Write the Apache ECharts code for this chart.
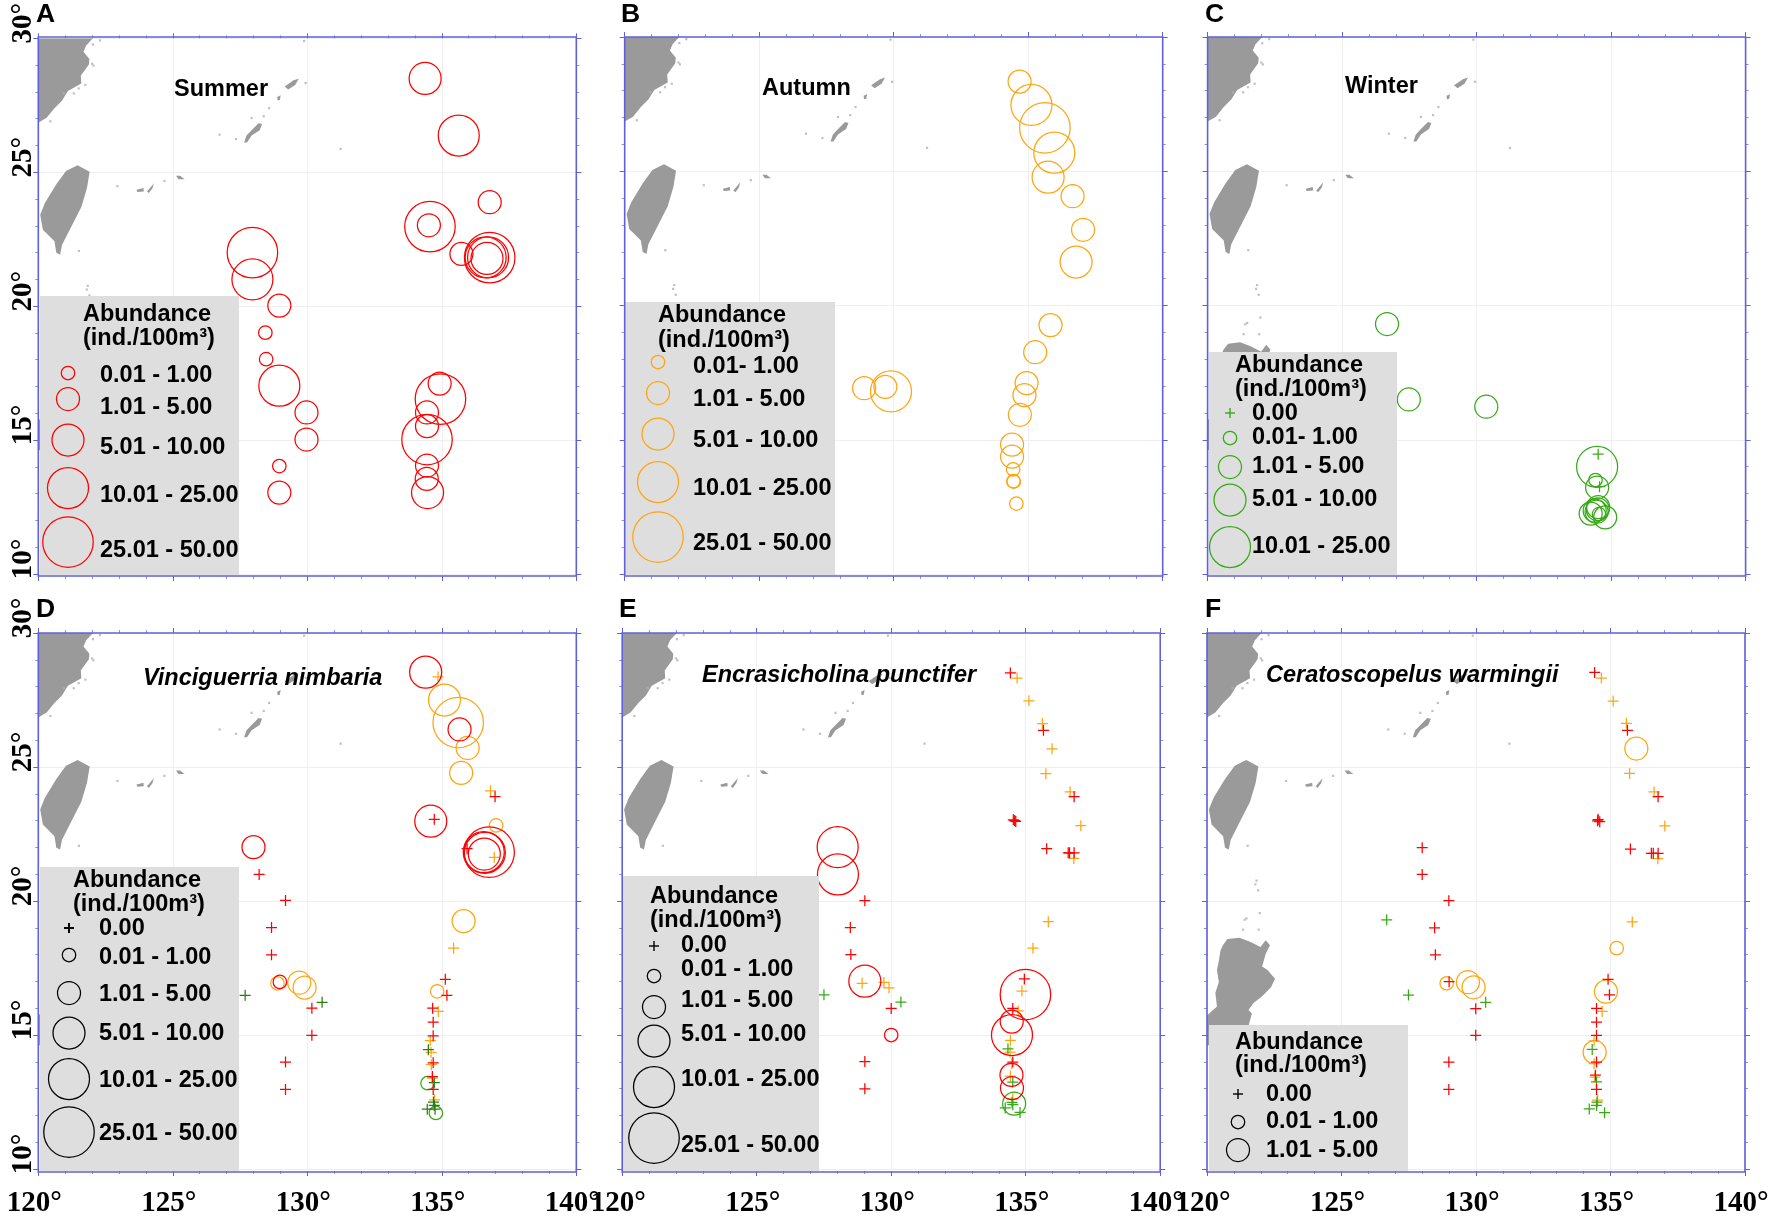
<!DOCTYPE html>
<html>
<head>
<meta charset="utf-8">
<title>Abundance maps</title>
<script src="https://cdn.jsdelivr.net/npm/echarts@6/dist/echarts.min.js"></script>
<style>
html, body { margin: 0; padding: 0; background: #fff; }
#chart { width: 1778px; height: 1218px; }
</style>
</head>
<body>
<div id="chart"></div>
<script>
// station lists: [lon, lat, abundance class] - class 0 means 0.00 (plus sign)
var summerA = [[134.38,28.5,3],[135.63,26.37,4],[136.78,23.88,2],[134.56,22.97,5],[134.52,23.02,2],[135.73,21.95,2],[136.78,21.81,5],[136.63,21.82,4],[136.72,21.82,4],[136.68,21.78,3],[127.96,22.0,5],[127.96,21.0,4],[128.96,20.02,2],[128.44,19.01,1],[128.47,18.02,1],[128.96,17.03,4],[129.97,16.03,2],[129.97,15.02,2],[128.96,14.03,1],[128.96,13.04,2],[134.92,17.11,2],[134.95,16.53,5],[134.45,16.03,2],[134.45,15.52,2],[134.45,15.02,5],[134.45,14.05,2],[134.44,13.55,2],[134.47,13.04,3]]
var autumnB = [[134.68,28.34,2],[135.12,27.47,4],[135.62,26.62,5],[135.97,25.69,4],[135.74,24.78,3],[136.65,24.07,2],[137.04,22.82,2],[136.78,21.62,3],[135.83,19.27,2],[135.26,18.26,2],[134.94,17.11,2],[134.86,16.66,2],[134.69,15.93,2],[134.40,14.82,2],[134.40,14.37,2],[134.44,13.90,1],[134.45,13.46,1],[134.46,13.44,1],[134.56,12.62,1],[128.90,16.92,2],[129.69,16.97,2],[129.90,16.80,4]]
var winterC = [[126.67,19.31,2],[127.48,16.50,2],[130.36,16.23,2],[134.52,14.46,0],[134.48,13.99,4],[134.42,13.50,1],[134.48,13.22,2],[134.57,13.25,0],[134.52,12.49,2],[134.50,12.41,2],[134.39,12.36,2],[134.24,12.25,2],[134.46,12.32,2],[134.78,12.11,2],[134.55,12.23,1]]

var vincRed = [[134.40,28.54,3],[135.66,26.40,2],[134.59,22.98,3],[128.0,22.01,2],[136.76,21.82,5],[136.56,21.82,4],[136.60,21.80,4],[136.58,21.75,3],[128.98,16.98,1],[134.72,23.05,0],[136.98,23.89,0],[135.94,21.95,0],[128.21,20.99,0],[129.19,20.02,0],[128.67,19.01,0],[128.67,17.99,0],[130.17,16.0,0],[130.17,14.99,0],[129.19,13.99,0],[129.19,12.97,0],[135.13,17.08,0],[135.19,16.48,0],[134.66,16.0,0],[134.68,15.48,0],[134.68,14.97,0],[134.68,13.96,0],[134.65,13.45,0],[134.68,12.97,0]]
var vincOrange = [[135.10,27.50,3],[135.61,26.66,5],[135.96,25.71,2],[135.72,24.78,2],[137.02,22.82,1],[135.81,19.25,2],[134.83,16.63,1],[128.89,16.93,1],[129.70,16.95,2],[129.90,16.77,2],[134.86,28.36,0],[136.81,24.11,0],[136.95,21.63,0],[135.44,18.24,0],[134.87,15.88,0],[134.57,14.79,0],[134.60,14.35,0],[134.61,13.89,0],[134.65,13.39,0],[134.73,12.58,0]]
var vincGreen = [[134.47,13.20,1],[134.78,12.09,1]]
var vincGreenZero = [[127.69,16.48,0],[130.55,16.22,0],[134.50,14.45,0],[134.72,13.22,0],[134.69,12.50,0],[134.72,12.37,0],[134.46,12.23,0],[134.75,12.23,0]]

var encrRed = [[128.01,22.01,4],[128.02,20.99,4],[129.02,17.01,3],[130.0,15.0,1],[134.99,16.51,5],[134.48,15.50,2],[134.49,15.0,4],[134.47,13.51,2],[134.49,13.02,2],[134.43,28.51,0],[135.66,26.37,0],[136.80,23.89,0],[134.59,23.0,0],[134.54,23.03,0],[134.63,22.97,0],[135.78,21.95,0],[136.58,21.80,0],[136.63,21.80,0],[136.80,21.80,0],[129.02,20.01,0],[128.48,19.01,0],[128.50,18.0,0],[130.0,15.99,0],[129.02,14.01,0],[129.02,12.99,0],[134.95,17.09,0],[134.52,15.99,0],[134.52,13.99,0]]
var encrOrange = [[134.68,28.32,0],[135.12,27.47,0],[135.62,26.62,0],[135.98,25.68,0],[135.75,24.75,0],[136.65,24.07,0],[137.05,22.81,0],[136.79,21.59,0],[135.84,19.23,0],[135.27,18.24,0],[134.86,16.64,0],[134.72,15.90,0],[134.43,14.80,0],[134.42,14.36,0],[134.48,13.93,0],[134.43,13.47,0],[134.52,12.62,0],[128.92,16.93,0],[129.73,16.96,0],[129.92,16.76,0]]
var encrGreen = [[127.50,16.50,0],[130.36,16.23,0],[134.34,14.48,0],[134.52,13.24,0],[134.49,12.49,0],[134.52,12.40,0],[134.24,12.28,0],[134.79,12.11,0],[134.57,12.44,2]]

var cerRed = [[134.41,28.53,0],[135.63,26.37,0],[136.77,23.89,0],[134.54,23.04,0],[134.60,22.96,0],[134.52,22.99,0],[135.74,21.94,0],[136.52,21.78,0],[136.59,21.78,0],[136.77,21.78,0],[128.0,21.99,0],[128.0,20.99,0],[128.99,20.01,0],[128.46,19.0,0],[128.49,17.99,0],[129.0,16.99,0],[129.99,15.98,0],[129.99,14.99,0],[128.99,13.99,0],[128.99,12.97,0],[134.91,17.08,0],[134.96,16.50,0],[134.48,15.99,0],[134.48,15.48,0],[134.48,14.99,0],[134.48,13.99,0],[134.44,13.50,0],[134.48,12.97,0]]
var cerOrange = [[135.96,25.69,2],[135.23,18.24,1],[128.91,16.93,1],[129.70,16.97,2],[129.91,16.78,2],[134.83,16.62,2],[134.41,14.36,2],[134.66,28.32,0],[135.10,27.46,0],[135.59,26.63,0],[135.71,24.76,0],[136.62,24.07,0],[137.02,22.80,0],[136.76,21.58,0],[135.81,19.22,0],[134.69,15.88,0],[134.39,14.78,0],[134.39,13.93,0],[134.42,13.43,0],[134.52,12.57,0]]
var cerGreen = [[126.68,19.30,0],[127.49,16.49,0],[130.36,16.22,0],[134.32,14.46,0],[134.48,13.25,0],[134.50,12.50,0],[134.48,12.37,0],[134.21,12.24,0],[134.78,12.10,0]]

// land outlines in lon/lat
var chinaCoast = [[120,30],[122.03,30],[121.78,29.73],[121.68,29.5],[121.9,29.23],[121.88,29.02],[121.58,28.6],[121.6,28.31],[121.10,28.03],[120.88,27.67],[120.60,27.39],[120.31,27.03],[120,26.85]]
var taiwan = [[121.46,25.26],[121.91,25.02],[121.81,24.41],[121.60,23.70],[121.24,22.99],[120.88,22.28],[120.81,21.92],[120.67,21.99],[120.60,22.42],[120.17,22.85],[120.07,23.41],[120.24,23.84],[120.67,24.55],[121.03,25.05]]
var okinawa = [[127.65,26.11],[127.74,26.37],[127.93,26.57],[128.19,26.83],[128.32,26.80],[128.23,26.57],[127.93,26.37],[127.76,26.11]]
var amami = [[129.16,28.20],[129.49,28.43],[129.68,28.49],[129.55,28.26],[129.29,28.09]]
var tokuno = [[128.88,27.81],[129.01,27.87],[128.98,27.70],[128.90,27.68]]
var miyako = [[123.65,24.35],[123.91,24.41],[123.92,24.28],[123.68,24.26]]
var ishigaki = [[124.04,24.28],[124.30,24.59],[124.24,24.39],[124.11,24.22]]
var yonaguni = [[125.12,24.87],[125.27,24.87],[125.44,24.74],[125.21,24.74]]
var luzon = [[120.59,18.35],[120.76,18.58],[121.21,18.63],[121.60,18.48],[121.99,18.28],[122.18,18.54],[122.34,18.35],[122.18,18.02],[122.05,17.56],[122.25,17.43],[122.53,17.10],[122.38,16.78],[122.05,16.45],[121.73,16.19],[121.54,15.93],[121.67,15.80],[121.54,15.34],[121.47,14.62],[120,14.62],[120,15.73],[120.37,16.06],[120.31,16.58],[120.44,16.97],[120.37,17.43],[120.44,17.76],[120.50,18.15]]
var landShapes = [chinaCoast, taiwan, okinawa, amami, tokuno, miyako, ishigaki, yonaguni, luzon]
var smallIslands = [[131.24,25.87],[126.74,26.40],[128.58,27.39],[129.94,28.33],[129.88,29.90],[122.94,24.48],[124.69,24.67],[121.51,22.06],[121.84,20.76],[121.80,20.62],[121.90,20.40],[121.47,19.35],[121.40,19.30],[121.96,19.55],[121.34,18.93],[121.92,18.93],[122.29,29.92],[122.03,29.77],[122.05,28.98],[122.0,29.05],[121.75,28.26],[121.5,28.13],[121.32,27.94],[120.95,27.94],[120.45,26.9],[127.93,27.02],[128.38,27.09],[127.35,26.24]]

var xTicks = ['120°', '125°', '130°', '135°', '140°']
var labelsFive = ['0.01 - 1.00', '1.01 - 5.00', '5.01 - 10.00', '10.01 - 25.00', '25.01 - 50.00']
var sizes = [11, 13.5, 23, 32, 41, 50.5] // px per abundance class

var RED = '#ff0000', ORANGE = '#ffa50f', GREEN = '#35aa14', DARKGREEN = '#2a7d12', BLUE = '#6060dc'
var PLUS = 'path://M0 5L10 5M5 0L5 10'

// gx/gy: plot origin, left/top: origin the legend and title offsets are measured from
var panels = [
  { letter: 'A', gx: 38.3, gy: 37, left: 39, top: 36, title: 'Summer', tx: 135, ty: 54, yLabels: true, xLabels: false,
    sets: [[summerA, RED]],
    legend: { color: RED, w: 199, top: 260, titleX: 44, titleY: [279, 303], symX: 29, symY: [337, 363, 404, 452, 506], txtX: 61, txtY: [340, 372, 412, 460, 515], cls: [1, 2, 3, 4, 5], labels: labelsFive } },
  { letter: 'B', gx: 624.7, gy: 37, left: 624, top: 36, title: 'Autumn', tx: 138, ty: 53, yLabels: false, xLabels: false,
    sets: [[autumnB, ORANGE]],
    legend: { color: ORANGE, w: 210, top: 266, titleX: 34, titleY: [280, 305], symX: 34, symY: [326, 357, 398, 446, 501], txtX: 69, txtY: [331, 364, 405, 453, 508], cls: [1, 2, 3, 4, 5],
      labels: ['0.01- 1.00', '1.01 - 5.00', '5.01 - 10.00', '10.01 - 25.00', '25.01 - 50.00'] } },
  { letter: 'C', gx: 1207.6, gy: 37, left: 1208, top: 36, title: 'Winter', tx: 137, ty: 51, yLabels: false, xLabels: false,
    sets: [[winterC, GREEN]],
    legend: { color: GREEN, w: 188, top: 316, titleX: 27, titleY: [330, 354], symX: 22, symY: [377, 402, 431, 464, 511], txtX: 44, txtY: [378, 402, 431, 464, 511], cls: [0, 1, 2, 3, 4],
      labels: ['0.00', '0.01- 1.00', '1.01 - 5.00', '5.01 - 10.00', '10.01 - 25.00'] } },
  { letter: 'D', gx: 38.3, gy: 633, left: 39, top: 631, title: 'Vinciguerria nimbaria', italic: true, tx: 104, ty: 48, yLabels: true, xLabels: true,
    sets: [[vincGreen, GREEN], [vincOrange, ORANGE], [vincRed, RED], [vincGreenZero, DARKGREEN]],
    legend: { color: '#000', w: 199, top: 236, titleX: 34, titleY: [250, 274], symX: 30, symY: [297, 324, 362, 402, 448, 501], txtX: 60, txtY: [298, 327, 364, 403, 450, 503], cls: [0, 1, 2, 3, 4, 5],
      labels: ['0.00'].concat(labelsFive) } },
  { letter: 'E', gx: 622.2, gy: 633, left: 622, top: 631, title: 'Encrasicholina punctifer', italic: true, tx: 80, ty: 45, yLabels: false, xLabels: true,
    sets: [[encrOrange, ORANGE], [encrGreen, GREEN], [encrRed, RED]],
    legend: { color: '#000', w: 196, top: 245, titleX: 28, titleY: [266, 290], symX: 32, symY: [315, 345, 376, 410, 456, 507], txtX: 59, txtY: [315, 339, 370, 404, 449, 515], cls: [0, 1, 2, 3, 4, 5],
      labels: ['0.00'].concat(labelsFive) } },
  { letter: 'F', gx: 1207, gy: 633, left: 1208, top: 631, title: 'Ceratoscopelus warmingii', italic: true, tx: 58, ty: 45, yLabels: false, xLabels: true,
    sets: [[cerOrange, ORANGE], [cerGreen, GREEN], [cerRed, RED]],
    legend: { color: '#000', w: 199, top: 394, titleX: 27, titleY: [412, 435], symX: 30, symY: [463, 491, 519], txtX: 58, txtY: [464, 491, 520], cls: [0, 1, 2],
      labels: ['0.00', '0.01 - 1.00', '1.01 - 5.00'] } }
]

var PW = 538, PH = 537, FRAME_DROP = 2
var SANS = '"Liberation Sans", Arial, sans-serif'
var SERIF = '"Liberation Serif", "Times New Roman", serif'

var grids = [], xAxes = [], yAxes = [], series = [], graphics = []

function lonAxis(i, pos, labels, split) {
  return {
    type: 'value', gridIndex: i, position: pos, min: 120, max: 140, interval: 5,
    offset: pos === 'bottom' ? FRAME_DROP : 0,
    axisLine: { show: false, onZero: false },
    axisTick: { show: true, length: 5, lineStyle: { color: BLUE, width: 1 } },
    minorTick: { show: true, splitNumber: 5, length: 3, lineStyle: { color: '#8f8fe6', width: 1 } },
    splitLine: { show: split, lineStyle: { color: '#efeff2', width: 1 } },
    axisLabel: { show: labels, margin: 18, color: '#000', fontFamily: SERIF, fontWeight: 'bold', fontSize: 29,
      padding: [0, 8, 0, 0], showMinLabel: true, showMaxLabel: true, formatter: function (v) { return xTicks[(v - 120) / 5] } }
  }
}

function latAxis(i, pos, labels, split) {
  return {
    type: 'value', gridIndex: i, position: pos, min: 10, max: 30, interval: 5,
    axisLine: { show: false, onZero: false },
    axisTick: { show: true, length: 5, lineStyle: { color: BLUE, width: 1 } },
    minorTick: { show: true, splitNumber: 5, length: 3, lineStyle: { color: '#8f8fe6', width: 1 } },
    splitLine: { show: split, lineStyle: { color: '#efeff2', width: 1 } },
    axisLabel: { show: labels, rotate: 90, margin: 0, color: '#000', fontFamily: SERIF, fontWeight: 'bold', fontSize: 29,
      padding: [0, 0, 0, 30], showMinLabel: true, showMaxLabel: true, formatter: '{value}°' }
  }
}

function txt(x, y, s, opt) {
  opt = opt || {}
  return { type: 'text', x: x, y: y, z: opt.z || 20, silent: true,
    style: { text: s, fill: '#000', font: (opt.italic ? 'italic ' : '') + 'bold ' + (opt.size || 23.5) + 'px ' + SANS, textVerticalAlign: 'middle', verticalAlign: 'middle' } }
}

panels.forEach(function (p, i) {
  grids.push({ left: p.gx, top: p.gy, width: PW, height: PH, show: false })
  xAxes.push(lonAxis(i, 'bottom', p.xLabels, true), lonAxis(i, 'top', false, false))
  yAxes.push(latAxis(i, 'left', p.yLabels, true), latAxis(i, 'right', false, false))
  var xi = i * 2, yi = i * 2

  // land
  series.push({
    type: 'custom', xAxisIndex: xi, yAxisIndex: yi, z: 1, silent: true, clip: true,
    data: landShapes.map(function (s) { return s[0] }),
    renderItem: function (params, api) {
      var pts = landShapes[params.dataIndex].map(function (c) { return api.coord(c) })
      return { type: 'polygon', shape: { points: pts }, style: { fill: '#9a9a9a' } }
    }
  })
  series.push({
    type: 'scatter', xAxisIndex: xi, yAxisIndex: yi, z: 1, silent: true, symbol: 'rect', symbolSize: 2.2,
    itemStyle: { color: '#b0b0b0' }, data: smallIslands
  })

  // stations
  p.sets.forEach(function (s, k) {
    series.push({
      type: 'scatter', xAxisIndex: xi, yAxisIndex: yi, z: 3 + k, silent: true,
      data: s[0],
      symbol: function (v) { return v[2] === 0 ? PLUS : 'circle' },
      symbolSize: function (v) { return sizes[v[2]] },
      itemStyle: { color: 'rgba(0,0,0,0)', borderColor: s[1], borderWidth: 1.25, opacity: 1 }
    })
  })

  // legend box and panel texts
  var L = p.legend
  graphics.push({ type: 'rect', z: 10, silent: true,
    shape: { x: p.left + 1, y: p.top + L.top, width: L.w, height: p.gy + PH + FRAME_DROP - 1 - (p.top + L.top) },
    style: { fill: '#dedede' } })
  graphics.push({ type: 'rect', z: 25, silent: true,
    shape: { x: p.gx, y: p.gy, width: PW, height: PH + FRAME_DROP },
    style: { fill: 'none', stroke: BLUE, lineWidth: 1.6 } })
  graphics.push(txt(p.left + L.titleX, p.top + L.titleY[0], 'Abundance'))
  graphics.push(txt(p.left + L.titleX, p.top + L.titleY[1], '(ind./100m³)'))
  L.cls.forEach(function (c, k) {
    var cx = p.left + L.symX, cy = p.top + L.symY[k]
    if (c === 0) {
      var w = p.letter === 'D' ? 2 : 1.4
      graphics.push({ type: 'line', z: 20, silent: true, shape: { x1: cx - 5, y1: cy, x2: cx + 5, y2: cy }, style: { stroke: L.color, lineWidth: w } })
      graphics.push({ type: 'line', z: 20, silent: true, shape: { x1: cx, y1: cy - 5, x2: cx, y2: cy + 5 }, style: { stroke: L.color, lineWidth: w } })
    } else {
      graphics.push({ type: 'circle', z: 20, silent: true, shape: { cx: cx, cy: cy, r: sizes[c] / 2 }, style: { fill: 'none', stroke: L.color, lineWidth: 1.25 } })
    }
    graphics.push(txt(p.left + L.txtX, p.top + L.txtY[k], L.labels[k]))
  })
  graphics.push(txt(p.left + p.tx, p.top + p.ty, p.title, { italic: p.italic, z: 21 }))
  graphics.push(txt(p.left - 3, p.top - 21, p.letter, { size: 26.5, z: 21 }))
})

var chart = echarts.init(document.getElementById('chart'), null, { renderer: 'canvas' })
chart.setOption({
  animation: false,
  backgroundColor: '#fff',
  grid: grids,
  xAxis: xAxes,
  yAxis: yAxes,
  series: series,
  graphic: { elements: graphics }
})
</script>
</body>
</html>
